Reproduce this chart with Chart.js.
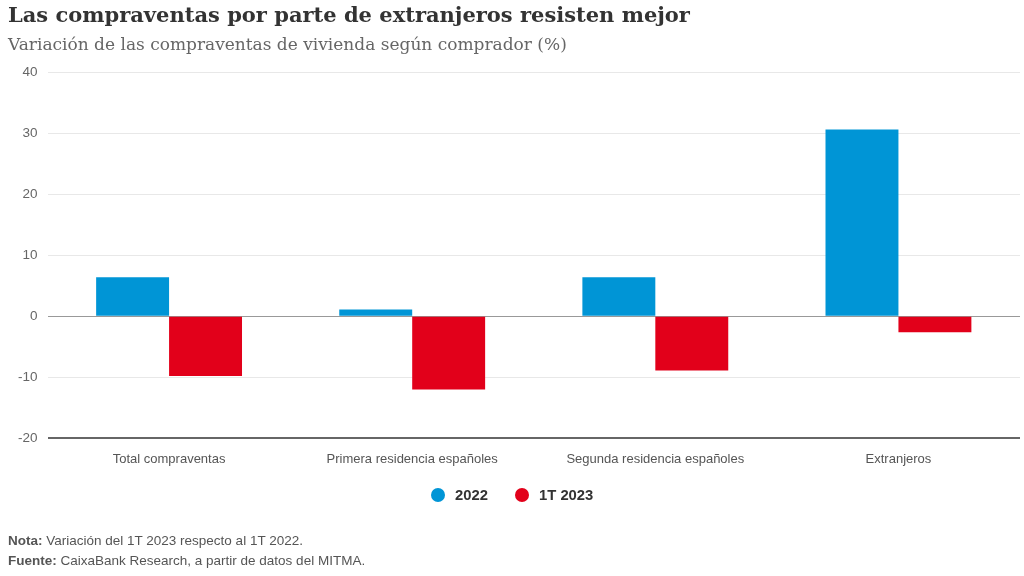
<!DOCTYPE html>
<html>
<head>
<meta charset="utf-8">
<script src="https://cdn.jsdelivr.net/npm/chart.js@4"></script>
<style>
  html, body { margin:0; padding:0; background:#fff; }
  #wrap { position:relative; width:1024px; height:576px; overflow:hidden; }
  canvas { position:absolute; left:0; top:0; }
  .t { position:absolute; white-space:nowrap; }
  #title { left:8px; top:2px; font-family:"DejaVu Serif", serif; font-weight:bold; font-size:21px; color:#333; }
  #sub { left:8px; top:34px; font-family:"DejaVu Serif", serif; font-size:17px; color:#666; }
  .foot { left:8px; font-family:"Liberation Sans", Arial, sans-serif; font-size:13.5px; color:#555; }
  .foot b { color:#555; }
  #legend { position:absolute; left:0; top:485px; width:1024px; height:20px; }
  .li { position:absolute; top:0; height:20px; font-family:"Liberation Sans", Arial, sans-serif; font-weight:bold; font-size:14.8px; color:#333; line-height:20px; }
  .dot { position:absolute; top:3px; width:14px; height:14px; border-radius:50%; }
</style>
</head>
<body>
<div id="wrap">
  <canvas id="c" width="1024" height="576"></canvas>
  <div class="t" id="title">Las compraventas por parte de extranjeros resisten mejor</div>
  <div class="t" id="sub">Variación de las compraventas de vivienda según comprador (%)</div>
  <div id="legend"></div>
  <div class="t foot" style="top:533px"><b>Nota:</b> Variación del 1T 2023 respecto al 1T 2022.</div>
  <div class="t foot" style="top:553px"><b>Fuente:</b> CaixaBank Research, a partir de datos del MITMA.</div>
</div>
<script>
const categories = ["Total compraventas", "Primera residencia españoles", "Segunda residencia españoles", "Extranjeros"];
const seriesNames = ["2022", "1T 2023"];
const seriesColors = ["#0095d6", "#e2001a"];
const values2022 = [6.4, 1.1, 6.4, 30.6];
const values1T2023 = [-9.8, -12.0, -8.9, -2.6];
const yTicks = [-20, -10, 0, 10, 20, 30, 40];

const chart = new Chart(document.getElementById('c'), {
  type: 'bar',
  data: {
    labels: categories,
    datasets: [
      { label: seriesNames[0], data: values2022, backgroundColor: seriesColors[0], borderWidth: 0 },
      { label: seriesNames[1], data: values1T2023, backgroundColor: seriesColors[1], borderWidth: 0 }
    ]
  },
  options: {
    responsive: false,
    animation: false,
    devicePixelRatio: 1,
    layout: { padding: { top: 72, left: 8, right: 4, bottom: 104 } },
    datasets: { bar: { categoryPercentage: 0.6, barPercentage: 1.0 } },
    plugins: {
      legend: { display: false },
      tooltip: { enabled: false }
    },
    scales: {
      x: {
        grid: { display: false },
        border: { display: false },
        ticks: { color: '#555', padding: 5, font: { family: '"Liberation Sans", Arial, sans-serif', size: 13 } }
      },
      y: {
        min: -20, max: 40,
        afterBuildTicks: (s) => { s.ticks = yTicks.map(v => ({ value: v })); },
        border: { display: false },
        grid: {
          drawTicks: false,
          color: (ctx) => ctx.tick && ctx.tick.value === -20 ? '#666' : (ctx.tick && ctx.tick.value === 0 ? '#999' : '#e8e8e8'),
          lineWidth: (ctx) => ctx.tick && ctx.tick.value === -20 ? 2 : 1
        },
        ticks: { color: '#666', padding: 10, font: { family: '"Liberation Sans", Arial, sans-serif', size: 13.5 } }
      }
    }
  }
});

// HTML legend built from the chart's datasets
const legend = document.getElementById('legend');
const legendX = [431, 515];
chart.data.datasets.forEach((ds, i) => {
  const item = document.createElement('div');
  item.className = 'li';
  item.style.left = legendX[i] + 'px';
  const dot = document.createElement('span');
  dot.className = 'dot';
  dot.style.left = '0px';
  dot.style.background = ds.backgroundColor;
  const txt = document.createElement('span');
  txt.style.marginLeft = '24px';
  txt.textContent = ds.label;
  item.appendChild(dot);
  item.appendChild(txt);
  legend.appendChild(item);
});
</script>
</body>
</html>
